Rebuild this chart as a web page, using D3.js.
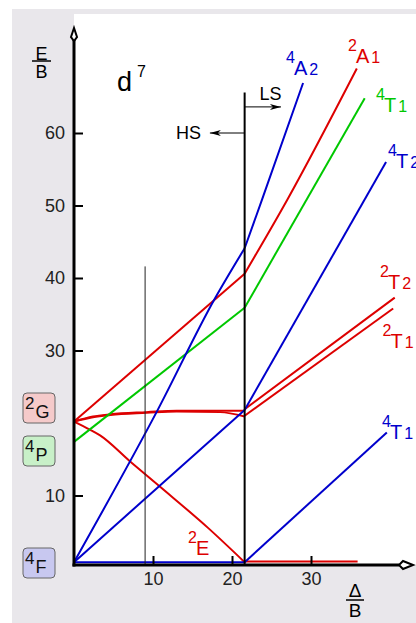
<!DOCTYPE html>
<html lang="en">
<head>
<meta charset="UTF-8">
<title>d7 Tanabe-Sugano diagram</title>
<style>
  body { margin: 0; background: #fff; }
  svg { display: block; font-family: "Liberation Sans", Arial, sans-serif; }
</style>
</head>
<body>
<div id="chart"></div>
<script src="https://cdn.jsdelivr.net/npm/d3@7/dist/d3.min.js"></script>
<script>
// tick labels
const xTicks = [10, 20, 30];
const yTicks = [10, 30, 40, 50, 60];

// spin crossover and the thin marker line (Delta/B)
const crossover = 21.6;
const marker = 9.0;

// high spin side, E/B relative to 4T1(F)  [Delta/B, E/B]
const hs4T1 = [[0, 0.8], [21.6, 0.8]];
const hs4T2 = [[0, 0.8], [21.6, 21.8]];
const hs4A2 = [[0, 0.8], [10.5, 21.6], [17.8, 37.1], [21.6, 44.1]];
const hs4T1P = [[0, 17.4], [21.6, 35.9]];
const hs2E = [[0, 20.2], [2.0, 19.1], [3.3, 18.3], [7.1, 14.7], [10.9, 11.2], [17.0, 5.5], [21.6, 0.8]];
const hs2T2 = [[0, 20.2], [2.4, 20.9], [4.6, 21.2], [9.2, 21.5], [13.0, 21.7], [18.5, 21.7], [21.6, 21.7]];
const hs2T1 = [[0, 20.2], [2.4, 20.8], [4.6, 21.1], [9.2, 21.4], [13.0, 21.6], [18.5, 21.5], [21.6, 20.9]];
const hs2A1 = [[0, 20.2], [21.6, 40.6]];

// low spin side, E/B relative to 2E
const ls2E = [[21.6, 0.9], [35.9, 0.9]];
const ls4T1 = [[21.6, 0.8], [39.6, 18.7]];
const ls4T2 = [[21.6, 21.8], [39.5, 56.0]];
const ls4A2 = [[21.6, 44.1], [23.8, 50.8], [29.0, 66.9]];
const ls4T1P = [[21.6, 35.9], [36.8, 64.8]];
const ls2T2 = [[21.6, 21.9], [40.6, 37.3]];
const ls2T1 = [[21.6, 21.0], [40.4, 35.8]];
const ls2A1 = [[21.6, 40.6], [27.0, 50.8], [35.8, 68.9]];

const RED = '#dd0000', BLUE = '#0000cc', GREEN = '#00c800';

const curves = [
  { pts: hs2E, c: RED }, { pts: hs2T2, c: RED }, { pts: hs2T1, c: RED }, { pts: hs2A1, c: RED },
  { pts: ls2E, c: RED }, { pts: ls2T2, c: RED }, { pts: ls2T1, c: RED }, { pts: ls2A1, c: RED },
  { pts: hs4T1P, c: GREEN }, { pts: ls4T1P, c: GREEN },
  { pts: hs4T1, c: BLUE }, { pts: hs4T2, c: BLUE }, { pts: hs4A2, c: BLUE },
  { pts: ls4T1, c: BLUE }, { pts: ls4T2, c: BLUE }, { pts: ls4A2, c: BLUE }
];

const w = 416, h = 623;
const x0 = 74, axisY = 565;

const x = d3.scaleLinear().domain([0, 40]).range([x0, x0 + 316]);
const y = d3.scaleLinear().domain([0, 70]).range([568, 568 - 507.5]);

const svg = d3.select('#chart').append('svg')
  .attr('width', w).attr('height', h);

// backgrounds
svg.append('rect').attr('x', 12).attr('y', 9).attr('width', w - 12).attr('height', h - 9).attr('fill', '#e9e7eb');
svg.append('rect').attr('x', x0).attr('y', 14).attr('width', w - x0).attr('height', axisY - 14).attr('fill', '#fff');

// curves
const line = d3.line().x(d => x(d[0])).y(d => y(d[1])).curve(d3.curveMonotoneX);
svg.append('g').selectAll('path')
  .data(curves).enter().append('path')
  .attr('d', d => line(d.pts))
  .attr('fill', 'none')
  .attr('stroke', d => d.c)
  .attr('stroke-width', 2);

// thin marker line and crossover line
svg.append('line')
  .attr('x1', x(marker)).attr('x2', x(marker))
  .attr('y1', y(41.6)).attr('y2', axisY)
  .attr('stroke', '#222').attr('stroke-width', 1);
svg.append('line')
  .attr('x1', x(crossover)).attr('x2', x(crossover))
  .attr('y1', y(65.6)).attr('y2', axisY)
  .attr('stroke', '#000').attr('stroke-width', 2);

// HS / LS arrows
function arrow(xa, xb, yy) {
  const dir = xb > xa ? 1 : -1;
  svg.append('line').attr('x1', xa).attr('x2', xb).attr('y1', yy).attr('y2', yy)
    .attr('stroke', '#000').attr('stroke-width', 1);
  svg.append('path')
    .attr('d', `M${xb},${yy} L${xb - dir * 11},${yy - 3} L${xb - dir * 8},${yy} L${xb - dir * 11},${yy + 3} Z`)
    .attr('fill', '#000');
}
arrow(x(crossover), x(26.2), y(63.6));
arrow(x(crossover), x(17.2), y(60.0));
svg.append('text').attr('x', 259.5).attr('y', 100).attr('font-size', 18).text('LS');
svg.append('text').attr('x', 201).attr('y', 139).attr('font-size', 18).attr('text-anchor', 'end').text('HS');

// axes
const xAxis = d3.axisBottom(x).tickValues(xTicks).tickSize(-9).tickPadding(7);
const yAxis = d3.axisLeft(y).tickValues(yTicks).tickSize(-9).tickPadding(9);

const gx = svg.append('g').attr('transform', `translate(0,${axisY})`).call(xAxis);
const gy = svg.append('g').attr('transform', `translate(${x0},0)`).call(yAxis);
[gx, gy].forEach(g => {
  g.select('.domain').remove();
  g.selectAll('.tick line').attr('stroke', '#000').attr('stroke-width', 2);
  g.selectAll('.tick text').attr('font-size', 18).attr('fill', '#222')
    .attr('font-family', '"Liberation Sans", Arial, sans-serif');
});

svg.append('line').attr('x1', x0).attr('x2', x0).attr('y1', axisY + 1.5).attr('y2', 40)
  .attr('stroke', '#000').attr('stroke-width', 3);
svg.append('line').attr('x1', x0 - 1.5).attr('x2', 399).attr('y1', axisY).attr('y2', axisY)
  .attr('stroke', '#000').attr('stroke-width', 3);
svg.append('path').attr('d', `M${x0},28 L${x0 - 3},37 L${x0},41 L${x0 + 3},37 Z`)
  .attr('fill', '#fff').attr('stroke', '#000').attr('stroke-width', 2);
svg.append('path').attr('d', `M413,${axisY} L403,${axisY - 4} L399,${axisY} L403,${axisY + 4} Z`)
  .attr('fill', '#fff').attr('stroke', '#000').attr('stroke-width', 2);

// axis titles
function fraction(cx, top, bot, barY, half, size, label) {
  svg.append('text').attr('x', cx).attr('y', top).attr('font-size', size).attr('text-anchor', 'middle').text(label);
  svg.append('line').attr('x1', cx - half).attr('x2', cx + half).attr('y1', barY).attr('y2', barY)
    .attr('stroke', '#000').attr('stroke-width', 1.5);
  svg.append('text').attr('x', cx).attr('y', bot).attr('font-size', size).attr('text-anchor', 'middle').text('B');
}
fraction(41.5, 59.5, 78, 61, 9.5, 18, 'E');
fraction(355, 597, 617, 600, 9, 19, '\u0394');

// d7
const d7 = svg.append('text').attr('x', 117).attr('y', 91);
d7.append('tspan').attr('font-size', 27).text('d');
d7.append('tspan').attr('font-size', 16).attr('dx', 5).attr('dy', -14).text('7');

// term labels
function term(tx, ty, sup, main, sub, color) {
  const t = svg.append('text').attr('x', tx).attr('y', ty - 12).attr('fill', color);
  t.append('tspan').attr('font-size', 16).text(sup);
  t.append('tspan').attr('font-size', 20).attr('dx', -1).attr('dy', 12).text(main);
  if (sub) t.append('tspan').attr('font-size', 16).attr('dx', 2).text(sub);
}
term(286, 75, '4', 'A', '2', BLUE);
term(348, 63, '2', 'A', '1', RED);
term(376, 112, '4', 'T', '1', GREEN);
term(388, 168, '4', 'T', '2', BLUE);
term(380, 289, '2', 'T', '2', RED);
term(382.5, 348, '2', 'T', '1', RED);
term(382, 439, '4', 'T', '1', BLUE);
term(188, 555, '2', 'E', null, RED);

// free ion terms
function ion(top, sup, main, fill) {
  svg.append('rect').attr('x', 23).attr('y', top).attr('width', 32).attr('height', 30)
    .attr('rx', 4).attr('fill', fill).attr('stroke', '#666').attr('stroke-width', 1);
  const t = svg.append('text').attr('x', 25).attr('y', top + 16).attr('fill', '#111');
  t.append('tspan').attr('font-size', 17).text(sup);
  t.append('tspan').attr('font-size', 18).attr('dx', 1).attr('dy', 9).text(main);
}
ion(393, '2', 'G', '#f5caca');
ion(436, '4', 'P', '#c8f0c8');
ion(548, '4', 'F', '#c8c8f0');
</script>
</body>
</html>
